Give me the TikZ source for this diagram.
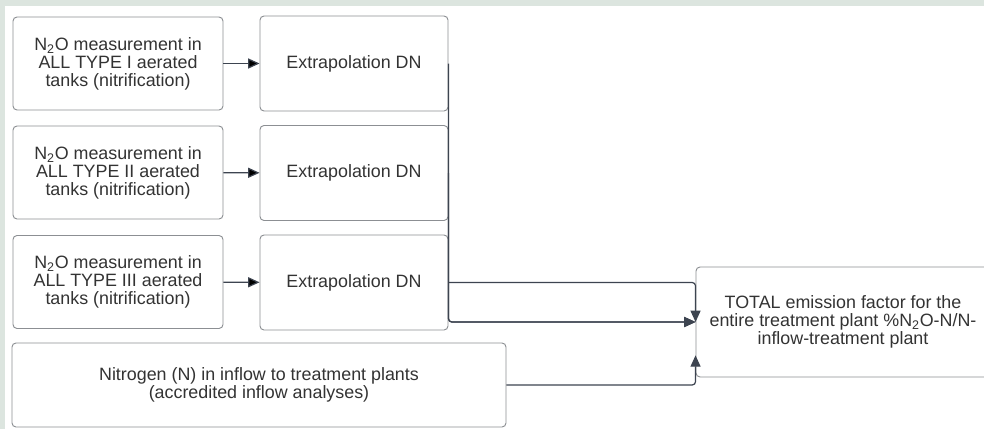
\documentclass[tikz,border=0pt]{standalone}
\usepackage{fontspec}
\setmainfont{Liberation Sans}
\usetikzlibrary{arrows.meta}

\definecolor{pagebg}{HTML}{DCE5DF}
\definecolor{boxline}{HTML}{8C8F93}
\definecolor{wirecol}{HTML}{3D4450}
\definecolor{ink}{HTML}{333333}

\tikzset{
	box/.style={draw=boxline, line width=0.7pt, rounded corners=3pt, fill=white, text=ink,
		align=center, inner sep=0pt, font=\fontsize{13.4}{13.5}\selectfont},
	measure/.style={box, minimum width=157.5pt, minimum height=69.75pt},
	extra/.style={box, minimum width=141pt, minimum height=71.25pt},
	inflow/.style={box, minimum width=370.5pt, minimum height=63pt},
	total/.style={box, minimum width=220.5pt, minimum height=82.5pt},
	wire/.style={draw=wirecol, line width=0.9pt, rounded corners=2.5pt,
		-{Triangle[length=8.5pt,width=7.5pt]}},
}

\begin{document}
\begin{tikzpicture}[x=0.75pt, y=-0.75pt]
		\useasboundingbox (0,0) rectangle (984,429);
		\fill[pagebg] (0,0) rectangle (984,429);
		\fill[white] (5,6) rectangle (984,429);
		\clip (0,0) rectangle (984,429);

		\draw (118,63.5) node [measure] (m1) {N\textsubscript{2}O measurement in\\ALL TYPE I aerated\\tanks (nitrification)};
		\draw (118,172.5) node [measure] (m2) {N\textsubscript{2}O measurement in\\ALL TYPE II aerated\\tanks (nitrification)};
		\draw (118,282) node [measure] (m3) {N\textsubscript{2}O measurement in\\ALL TYPE III aerated\\tanks (nitrification)};
		\draw (354,63.5) node [extra] (e1) {Extrapolation DN};
		\draw (354,173) node [extra] (e2) {Extrapolation DN};
		\draw (354,282.5) node [extra] (e3) {Extrapolation DN};
		\draw (259,385) node [inflow] (n) {Nitrogen (N) in inflow to treatment plants\\(accredited inflow analyses)};
		\draw (843,322) node [total] (t) {TOTAL emission factor for the\\entire treatment plant \%N\textsubscript{2}O-N/N-\\inflow-treatment plant};
		\coordinate (tin) at ([yshift=-25pt]t.west);

		\draw[wire]
			(m1) edge (e1)
			(m2) edge (e2)
			(m3) edge (e3)
		;
		\draw[wire] (e1.east) |- (t.west);
		\draw[wire] (e2.east) |- (t.west);
		\draw[wire] (e3.east) -| (t.west);
		\draw[wire] (n.east) -| (tin);
	\end{tikzpicture}
\end{document}
